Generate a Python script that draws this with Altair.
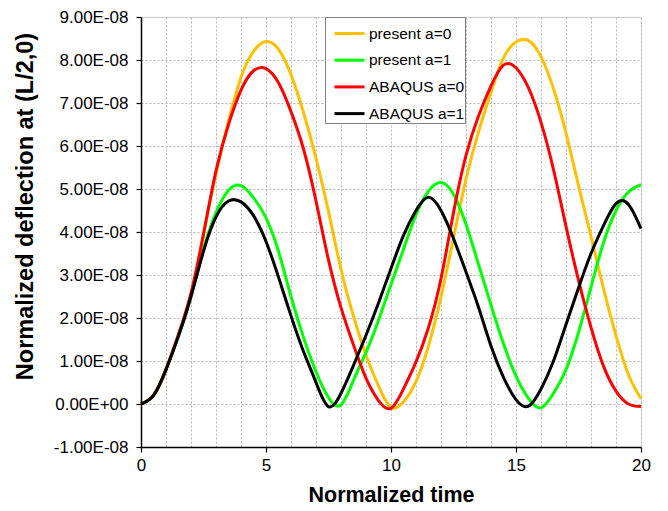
import altair as alt
import pandas as pd

FONT = "Liberation Sans"

series_names = ["present a=0", "present a=1", "ABAQUS a=0", "ABAQUS a=1"]
series_colors = ["#FFC000", "#00FF00", "#FF0000", "#000000"]

# normalized time samples
time = [0, 0.5, 1, 1.5, 2, 2.5, 3, 3.5, 4, 4.5, 5, 5.5, 6, 6.5, 7, 7.5, 8, 8.5, 9, 9.5, 10,
        10.5, 11, 11.5, 12, 12.5, 13, 13.5, 14, 14.5, 15, 15.5, 16, 16.5, 17, 17.5, 18, 18.5,
        19, 19.5, 20]

# deflection values in units of 1E-08
present_a0 = [0, 0.2, 0.8, 1.6, 2.55, 3.95, 5.36, 6.58, 7.6, 8.2, 8.43, 8.25, 7.66, 6.78, 5.72,
              4.48, 3.13, 2.04, 1.14, 0.42, -0.08, 0.05, 0.52, 1.35, 2.49, 3.86, 5.23, 6.33,
              7.25, 8.05, 8.42, 8.45, 8.08, 7.33, 6.3, 5.08, 3.9, 2.68, 1.59, 0.68, 0.12]
present_a1 = [0, 0.2, 0.8, 1.58, 2.5, 3.6, 4.45, 4.97, 5.08, 4.8, 4.33, 3.55, 2.5, 1.55, 0.75,
              0.15, -0.02, 0.55, 1.2, 1.95, 2.78, 3.6, 4.4, 4.95, 5.15, 4.88, 4.18, 3.25,
              2.3, 1.4, 0.65, 0.13, -0.09, 0.25, 0.8, 1.66, 2.72, 3.75, 4.5, 4.93, 5.1]
abaqus_a0 = [0, 0.2, 0.8, 1.62, 2.58, 3.95, 5.42, 6.5, 7.3, 7.75, 7.8, 7.47, 6.8, 5.93, 4.72,
             3.35, 2.24, 1.37, 0.6, 0.08, -0.1, 0.35, 0.98, 1.78, 2.92, 4.45, 5.78, 6.7,
             7.4, 7.88, 7.82, 7.35, 6.55, 5.45, 4.13, 2.88, 1.78, 0.88, 0.3, 0.0, -0.06]
abaqus_a1 = [0, 0.2, 0.8, 1.58, 2.5, 3.55, 4.35, 4.72, 4.7, 4.38, 3.78, 2.95, 2.05, 1.22, 0.5,
             -0.06, 0.25, 0.9, 1.6, 2.35, 3.15, 3.92, 4.5, 4.81, 4.5, 3.85, 3.07, 2.25,
             1.35, 0.62, 0.1, -0.05, 0.35, 1.0, 1.85, 2.7, 3.5, 4.15, 4.66, 4.64, 4.08]

x_grid_values = list(range(0, 21))
y_tick_values = list(range(-1, 10))

rows = []
for name, ys in zip(series_names, [present_a0, present_a1, abaqus_a0, abaqus_a1]):
    for i, (t, y) in enumerate(zip(time, ys)):
        rows.append({"series": name, "t": t, "y": y, "idx": i})
df = pd.DataFrame(rows)

x_axis = alt.Axis(
    values=x_grid_values,
    labelExpr="datum.value % 5 === 0 ? datum.label : ''",
    tickOpacity={"condition": {"test": "datum.value % 5 === 0", "value": 1}, "value": 0},
    grid=True, gridDash=[2, 2], gridColor="#b4b4b4", gridWidth=1,
    domainColor="black", domainWidth=1.5, tickColor="black", tickSize=5, tickWidth=1.2,
    labelFont=FONT, labelFontSize=17, labelColor="black", labelPadding=5,
    labelFlush=False, labelOverlap=False,
    title="Normalized time", titleFont=FONT, titleFontSize=21.5, titleFontWeight="bold",
    titleColor="black", titleX=250, titleY=48, titleBaseline="middle", titleAlign="center",
)

y_axis = alt.Axis(
    values=y_tick_values,
    labelExpr="datum.value === 0 ? '0.00E+00' : (datum.value < 0 ? '-' : '') + format(abs(datum.value), '.2f') + 'E-08'",
    grid=True, gridDash=[2, 2], gridColor="#b4b4b4", gridWidth=1,
    domainColor="black", domainWidth=1.5, tickColor="black", tickSize=5, tickWidth=1.2,
    labelFont=FONT, labelFontSize=17, labelColor="black", labelPadding=8,
    labelFlush=False, labelOverlap=False,
    title="Normalized deflection at (L/2,0)", titleFont=FONT, titleFontSize=23.5,
    titleFontWeight="bold", titleColor="black", titleX=-116, titleY=189,
    titleAngle=270, titleBaseline="middle", titleAlign="center",
)

legend = alt.Legend(
    title=None, orient="none", legendX=184, legendY=0,
    symbolType="stroke", symbolSize=900, symbolStrokeWidth=3, symbolOffset=8,
    labelFont=FONT, labelFontSize=15.5, labelColor="black", labelOffset=3,
    labelExpr="datum.label + '\u00a0\u00a0'",
    strokeColor="#808080", fillColor="white", padding=0, rowPadding=1.7,
)

chart = alt.Chart(df).mark_line(strokeWidth=3, interpolate="natural").encode(
    x=alt.X("t:Q", scale=alt.Scale(domain=[0, 20], nice=False, zero=False), axis=x_axis),
    y=alt.Y("y:Q", scale=alt.Scale(domain=[-1, 9], nice=False), axis=y_axis),
    color=alt.Color("series:N", scale=alt.Scale(domain=series_names, range=series_colors),
                    legend=legend),
    order=alt.Order("idx:Q"),
).properties(
    width=500, height=430,
    autosize=alt.AutoSizeParams(type="none"),
    padding={"left": 133, "top": 9, "right": 19, "bottom": 60},
).configure_view(
    stroke="#808080", strokeWidth=1.5,
).configure(background="white")

chart.save("out.html", embed_options={"renderer": "svg", "actions": False})
